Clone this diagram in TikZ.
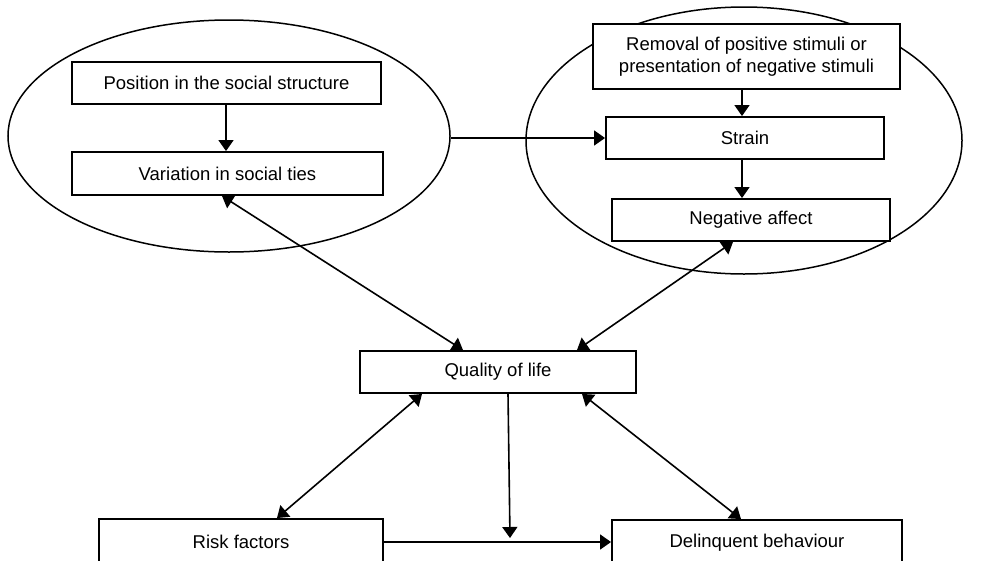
\documentclass[tikz,border=0pt]{standalone}
\usepackage{fontspec}
\setmainfont{Liberation Sans}
\usetikzlibrary{arrows.meta,shapes.geometric,calc}
\begin{document}
\begin{tikzpicture}[x=1pt,y=-1pt,
  box/.style={draw,line width=1.9pt,fill=white,rectangle,inner sep=0pt,align=center,
    font=\fontsize{18.5}{22}\selectfont},
  ell/.style={draw,line width=1.5pt,ellipse,inner sep=0pt},
  conn/.style={line width=1.6pt,-{Triangle[length=11pt,width=15pt]}},
  bconn/.style={line width=1.6pt,{Triangle[length=11pt,width=15pt]}-{Triangle[length=11pt,width=15pt]}}]
\useasboundingbox (0,0) rectangle (987,560);
\node[ell,minimum width=442pt,minimum height=232pt] (lell) at (229,136) {};
\node[ell,minimum width=436pt,minimum height=267pt] (rell) at (744,140.5) {};
\node[box,minimum width=309pt,minimum height=42pt] (pos) at (226.5,83) {Position in the social structure};
\node[box,minimum width=311pt,minimum height=43pt] (var) at (227.5,173.5) {Variation in social ties};
\node[box,minimum width=307pt,minimum height=65pt] (rem) at (746.5,56.5) {Removal of positive stimuli or\\presentation of negative stimuli};
\node[box,minimum width=278pt,minimum height=42pt] (strain) at (745,138) {Strain};
\node[box,minimum width=278pt,minimum height=42pt] (neg) at (751,220) {Negative affect};
\node[box,minimum width=276pt,minimum height=42pt] (qol) at (498,372) {Quality of life};
\node[box,minimum width=284pt,minimum height=46pt] (risk) at (241,542) {Risk factors};
\node[box,minimum width=290pt,minimum height=46pt] (del) at (757,543) {Delinquent behaviour};
\coordinate (mid) at (510,538);
\draw[conn] (pos.south -| 226,0) -- (var.north -| 226,0);
\draw[conn] (rem.south -| 742,0) -- (strain.north -| 742,0);
\draw[conn] (strain.south -| 742,0) -- (neg.north -| 742,0);
\draw[conn] (lell.east |- strain.west) -- (strain.west);
\draw[bconn] ([xshift=-5.5pt]var.south) -- ([xshift=-35pt]qol.north);
\draw[bconn] ([xshift=-18pt]neg.south) -- ([xshift=79pt]qol.north);
\draw[bconn] ([xshift=-76pt]qol.south) -- ([xshift=36pt]risk.north);
\draw[bconn] ([xshift=84pt]qol.south) -- ([xshift=-16pt]del.north);
\draw[conn] ([xshift=10pt]qol.south) -- (mid);
\draw[conn] (risk.east |- 0,542) -- (del.west |- 0,542);
\end{tikzpicture}
\end{document}
